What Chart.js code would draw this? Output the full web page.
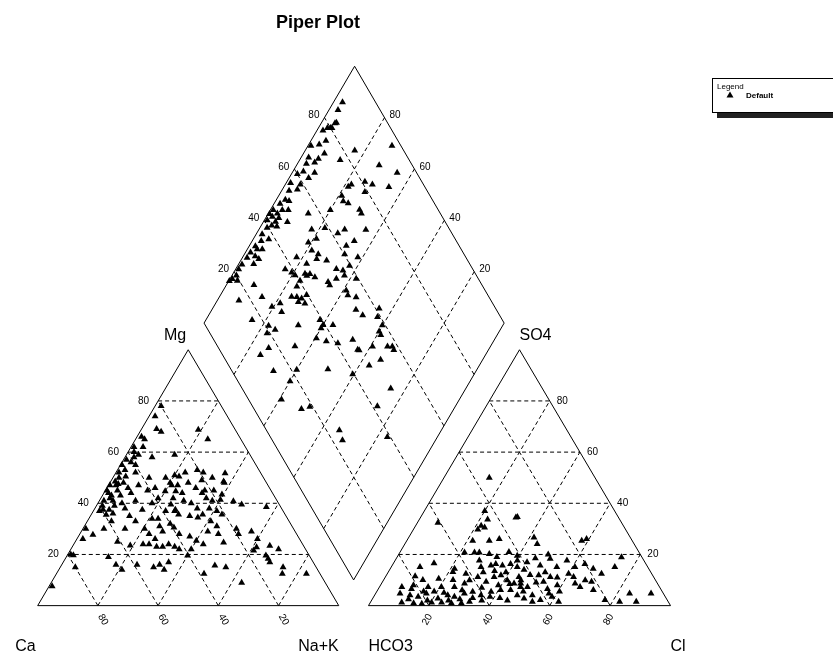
<!DOCTYPE html>
<html>
<head>
<meta charset="utf-8">
<title>Piper Plot</title>
<script src="https://cdn.jsdelivr.net/npm/chart.js@4.4.1/dist/chart.umd.min.js"></script>
<style>
    html, body { margin: 0; padding: 0; background: #fff; }
    #piperChart { display: block; }
</style>
</head>
<body>
<canvas id="piperChart" width="833" height="661"></canvas>
<script>
// --- Datos (porcentajes de meq/l) ---
// cationes: [Na+K, Mg]  (Ca = 100 - Na+K - Mg)
const cations = [
    [2,78],[2,74],[5,69],[7,68],[1.5,66],[3,65],[3,58],[4,59],[16,59],[3,56],
    [6.5,52],[0.5,55],[1,52],[2,50],[1.5,48.5],[4.5,48],[17.5,50],[20,51],[20,48],[0.5,47],
    [2.5,47],[0.5,45],[4,45],[3,43],[6,43],[1.5,41],[3,42],[3,37.5],[2,37],[5,35.5],
    [5,37.5],[7,36],[2,39],[16,33],[14,30],[1,30],[2,26],[4.5,27.7],[14,25],[1,20],
    [2,19.7],[14,19],[5,15],[18,16],[21,14],[25,16],[31,15],[32.5,16],[35,14],[35,17],
    [1,7.6],[16,37.5],[21,34],[23,34],[24,37],[24.5,39.5],[27,37.5],[19,42],[20,44.7],[21,47],
    [16,46],[20.5,30],[23,28],[26,26],[27,29],[28,32],[30,30.5],[23,24],[25,24],[28,23],
    [30,23],[31.5,24],[34,23],[36,22],[19,23.5],[23,47],[26,48],[23.5,44.7],[26,44],[29.5,46],
    [32.6,44],[35,42],[37.5,41],[40,41.4],[39.5,43.4],[38,48],[36,45],[27,37],[29,35.6],[33,35],
    [36,34.4],[37,35.6],[41,33],[43.4,35.6],[44.6,40.8],[48,39.5],[56.7,38.5],[51,30],[52.7,28],[56.5,29],
    [60,26],[40,25.4],[43,24],[49.4,24.7],[40,22],[40,19.6],[61,21.5],[61.3,22.8],[65.4,23.4],[69,22],
    [66,19.6],[67.4,18.3],[68.6,17],[51,15.7],[55,15],[49,12.5],[63.3,8.9],[74,15],[75,12.5],[83,12.5],
    [19,68.7],[24,65],[23,52],[26.5,53],[29,52],[33,50],[36.4,51.7],[37.5,48.5],[21.7,50.5],
    [1,62],[2,60],[4,62],[1,57],[5,55],[2.5,53],[4,50.5],[7,46],[8,40],[9,44],
    [10,47],[12,50],[10,38],[12,41],[14,45],[13,35],[18,40],[24,42],[28,41],[31,40],
    [33,45],[30,49],[34,38],[38,38],[41,37],[44,31],[46,28],[33,28],[37,27],[25,31],
    [42,29],[7,30],[9,58],[3,47.5],[1.5,44],[4.5,41],[6,39],[8,33]
];

// aniones: [Cl, SO4]  (HCO3 = 100 - Cl - SO4)
const anions = [
    [15,50],[20,37],[22.6,33.7],[32,34.6],[21.7,31.2],[21.3,29.8],[23.2,30.5],[6.8,32.4],[21.8,25.4],[27.3,25.4],
    [30.3,26],[21.4,20.8],[24.7,20.8],[26.3,20.8],[29.9,20.2],[9.5,15.1],[13.4,16.6],[9.7,11.5],[21.4,13.1],[21.3,14.4],
    [29.7,15.1],[32.7,15.7],[34,16.3],[36.5,15.7],[38.9,16.3],[41.7,15.1],[27.9,17.6],[7.4,7.3],[10.9,8],[16.1,7.3],
    [20.5,7.3],[24.8,7.3],[27.5,8.6],[28.5,9.9],[30.6,11.2],[34.3,9.3],[36,11.2],[8.1,4.7],[11.7,4.1],[14.7,3.5],
    [16.8,4.7],[21.6,2.8],[24.2,4.1],[26.7,3.5],[29.4,4.7],[31.8,5.4],[35.2,4.1],[37.9,5.4],[40.7,6.1],[44,6.1],
    [46.7,7.3],[47.2,4.1],[10.4,1.2],[14.5,0.9],[17.3,0.7],[20.3,1.2],[23.6,1.2],[27,0.9],[30.3,0.9],[32.7,1.5],
    [37.9,11.9],[41,9.9],[43.9,8.6],[45.5,9.9],[31.6,34.4],[41.5,26.6],[43.8,24.1],[57.9,25.4],[59.2,26],[40.5,17.6],
    [44,17],[49,15.7],[51,18.3],[54.8,15.1],[56.9,17.6],[60.8,15.1],[63.5,16.3],[67.2,14.4],[70.9,12.5],[74,15.1],
    [74.3,18.9],[44.2,11.2],[46.1,8.6],[49,7.3],[50.4,11.9],[53.3,9.3],[54.6,11.2],[62.3,11.2],[64.1,8.6],[66.4,7.3],
    [66.8,9.9],[69.2,9.3],[71.4,6.1],[50.1,2.8],[52.2,4.1],[55.8,2.2],[57.4,4.7],[59,3.5],[62.2,1.5],[77.2,2.2],
    [82.4,1.5],[84.1,4.7],[87.9,1.5],[91.2,4.7],
    [12,2.5],[15.5,5.5],[18.5,2],[19,5.5],[22.5,5],[25.5,2],[28,6],[29,2.5],[33,3],[34,7],
    [36.5,2],[38.5,3.5],[39,8],[42,3],[42.5,8.5],[45,2],[48.5,5.5],[51,9],[53.5,1.5],[56,6.5],
    [58.5,8],[60.5,5.5],[11,6.5],[13,10],[18,10.5],[23,10],[26,12.5],[31.5,13],[35,13.5],[39,13],
    [44.5,14],[47.5,12],[52,13],[57,11],[60,12.5],[33,19],[36,21],[39.5,19.5],[46,18.5],[49.5,20]
];

// rombo: [Ca+Mg, SO4+Cl]
const diamond = [
    [97,89],[97,86],[95,83],[96,80],[95.5,80.5],[95.4,82.4],[97,79],[98,77],[95,76],[99,70],
    [83.5,83.7],[72,97],[93,73],[86.5,77],[94,70],[94.5,68],[97,65],[96.5,62.5],[92.5,66],[72.5,89],
    [65,93.5],[98.5,56],[95,59],[95,57],[78.6,74.5],[78,76],[74,81],[71,83],[72,79],[65,88],
    [79,70.6],[75.4,71.3],[77.4,70],[70.3,73.8],[69,73.7],[80,64],[86.7,56],[95.5,52],[97,51],[94,50],
    [96,48],[92,47.4],[97,45.7],[99,45],[99.5,43],[98,43.4],[99,41],[96,43.5],[95.6,45.3],[97.6,39.5],
    [82.4,54],[78.3,58.7],[71.4,65],[64.3,72],[94.6,43],[73,62],[98,36.6],[94.8,37.8],[96.7,32],[98.3,29.2],
    [98.4,27],[94.3,30.7],[95,28],[98.8,24],[99,22],[99.2,18],[97.2,19.3],[99.8,16.6],[95,33.7],[97.9,32],
    [81,50.4],[79,53.8],[78.3,50],[75.4,51.4],[75,50],[71.4,53],[77.4,45.7],[82,43.6],[66,66],[67.7,62.4],
    [66.6,60.2],[61.6,64],[83.5,37.5],[80.7,39],[79,39.6],[76,43.2],[74.3,44.8],[72,45.8],[76.3,40.2],[76.2,38],
    [75,43.4],[66.5,54.6],[64,56.5],[62.5,56],[62.7,59.6],[64.6,52.7],[66.7,49.3],[65.5,49.2],[58,59.3],[90.8,24],
    [92.8,16],[85.8,24.4],[80.6,25.8],[78.5,29.2],[76,34.3],[74.2,36],[72.3,37.3],[71.3,39.6],[72.7,35.5],[70.2,37.4],
    [59,53.7],[57.5,53.3],[54.4,55.7],[76.3,28],[84.6,16.6],[78,21],[75,22.4],[77,19],[68.2,31],[62,39.2],
    [60,39.3],[60,38],[56.7,42.6],[52,53.2],[48.7,54.4],[44.5,61.2],[43.4,59],[40.2,59],[73.6,16.7],[65.2,25.8],
    [59.6,34.5],[55.7,37.2],[51.5,40.7],[47.2,46.3],[43.6,46],[40,56.7],[38.8,56.6],[39.3,51.6],[32.7,58.2],[31.5,58],
    [75,12.6],[67.5,13.8],[60,21.8],[60,17.4],[49.7,32.3],[59.3,11],[50.8,15.8],[48.4,19],[34,24.3],[31,23.4],
    [40.5,39.6],[43,46.4],[34,51.7],[36.7,46.8],[25,49.5],[26,41.6],[16.7,39],[34.3,56.6],
    [98,60],[97.5,54],[98,48.5],[96.5,41.5],[97,35],[96,30],[98.5,20],[97.5,67],[96.5,73],[93.5,63]
];

const gridSteps = [20, 40, 60, 80];
const tickLabels = ['20', '40', '60', '80'];

// --- Geometría del diagrama (coordenadas del lienzo) ---
const W = 833, H = 661;
const CAT = { x0: 34, x1: 338, base: 609, h: 259 };
const AN = { x0: 368, x1: 673, base: 609, h: 259 };
const DIA = { bx: 353, by: 583, lx: 202, ly: 323, rx: 505, ry: 323 };
const FONT = "'Liberation Sans', Arial, sans-serif";

function catXY(naK, mg) {
    return { x: CAT.x0 + (CAT.x1 - CAT.x0) * (naK + mg / 2) / 100, y: CAT.base - CAT.h * mg / 100 };
}
function anXY(cl, so4) {
    return { x: AN.x0 + (AN.x1 - AN.x0) * (cl + so4 / 2) / 100, y: AN.base - AN.h * so4 / 100 };
}
function diaXY(caMg, so4Cl) {
    return {
        x: DIA.bx + (DIA.lx - DIA.bx) * caMg / 100 + (DIA.rx - DIA.bx) * so4Cl / 100,
        y: DIA.by + (DIA.ly - DIA.by) * (caMg + so4Cl) / 100
    };
}

// --- Marco, rejilla y textos ---
const piperFrame = {
    id: 'piperFrame',
    beforeDatasetsDraw(chart) {
        const ctx = chart.ctx;
        const sx = chart.scales.x, sy = chart.scales.y;
        const px = p => [sx.getPixelForValue(p.x), sy.getPixelForValue(p.y)];

        function seg(p, q, dashed) {
            const a = px(p), b = px(q);
            ctx.save();
            ctx.strokeStyle = '#000';
            ctx.lineWidth = 1;
            ctx.setLineDash(dashed ? [4, 3] : []);
            ctx.beginPath();
            ctx.moveTo(a[0], a[1]);
            ctx.lineTo(b[0], b[1]);
            ctx.stroke();
            ctx.restore();
        }
        function poly(pts) {
            ctx.save();
            ctx.strokeStyle = '#000';
            ctx.lineWidth = 1;
            ctx.beginPath();
            pts.forEach((p, i) => {
                const a = px(p);
                if (i === 0) ctx.moveTo(a[0], a[1]); else ctx.lineTo(a[0], a[1]);
            });
            ctx.closePath();
            ctx.stroke();
            ctx.restore();
        }
        function text(str, p, dx, dy, align, font, rot) {
            const a = px(p);
            ctx.save();
            ctx.fillStyle = '#000';
            ctx.font = font;
            ctx.textAlign = align;
            ctx.textBaseline = 'middle';
            ctx.translate(a[0] + dx, a[1] + dy);
            if (rot) ctx.rotate(rot);
            ctx.fillText(str, 0, 0);
            ctx.restore();
        }

        // rejilla triangular
        gridSteps.forEach(g => {
            seg(catXY(0, g), catXY(100 - g, g), true);
            seg(catXY(g, 0), catXY(g, 100 - g), true);
            seg(catXY(100 - g, 0), catXY(0, 100 - g), true);
            seg(anXY(0, g), anXY(100 - g, g), true);
            seg(anXY(g, 0), anXY(g, 100 - g), true);
            seg(anXY(100 - g, 0), anXY(0, 100 - g), true);
            seg(diaXY(g, 0), diaXY(g, 100), true);
            seg(diaXY(0, g), diaXY(100, g), true);
        });

        poly([catXY(0, 0), catXY(100, 0), catXY(0, 100)]);
        poly([anXY(0, 0), anXY(100, 0), anXY(0, 100)]);
        poly([diaXY(0, 0), diaXY(100, 0), diaXY(100, 100), diaXY(0, 100)]);

        // etiquetas de los ejes
        const tick = '10px ' + FONT;
        gridSteps.forEach((g, i) => {
            const lbl = tickLabels[i];
            text(lbl, catXY(0, g), -9, 0, 'right', tick);
            text(lbl, catXY(100 - g, 0), 5, 14, 'center', tick, Math.PI / 3);
            text(lbl, anXY(100 - g, g), 7, 0, 'left', tick);
            text(lbl, anXY(g, 0), -1.5, 14, 'center', tick, -Math.PI / 3);
            text(lbl, diaXY(100, g), -5, -2, 'right', tick);
            text(lbl, diaXY(g, 100), 5, -2, 'left', tick);
        });

        const big = '16px ' + FONT;
        text('Mg', catXY(0, 100), -2, -14, 'right', big);
        text('SO4', anXY(0, 100), 0, -14, 'left', big);
        text('Ca', catXY(0, 0), -2, 41, 'right', big);
        text('Na+K', catXY(100, 0), 0, 41, 'right', big);
        text('HCO3', anXY(0, 0), 0, 41, 'left', big);
        text('Cl', anXY(100, 0), 0, 41, 'left', big);

        // título
        text('Piper Plot', { x: 317, y: 19 }, 0, 0, 'center', 'bold 18px ' + FONT);
    },
    afterDraw(chart) {
        // leyenda con sombra
        const ctx = chart.ctx;
        ctx.save();
        ctx.fillStyle = '#222';
        ctx.fillRect(717, 83, 130, 35);
        ctx.fillStyle = '#fff';
        ctx.fillRect(712, 78, 130, 35);
        ctx.strokeStyle = '#000';
        ctx.lineWidth = 1;
        ctx.strokeRect(712.5, 78.5, 130, 34);
        ctx.fillStyle = '#000';
        ctx.font = '8px ' + FONT;
        ctx.textBaseline = 'middle';
        ctx.fillText('Legend', 717, 87);
        ctx.font = 'bold 8px ' + FONT;
        ctx.fillText('Default', 746, 96);
        ctx.beginPath();
        ctx.moveTo(730, 91.5);
        ctx.lineTo(733.5, 97.5);
        ctx.lineTo(726.5, 97.5);
        ctx.closePath();
        ctx.fill();
        ctx.restore();
    }
};

function pointSet(rows, fn) {
    return rows.map(r => fn(r[0], r[1]));
}

const pointStyle = {
    pointStyle: 'triangle',
    pointRadius: 4,
    pointBackgroundColor: '#000',
    pointBorderColor: '#000',
    pointBorderWidth: 0,
    showLine: false
};

new Chart(document.getElementById('piperChart'), {
    type: 'scatter',
    data: {
        datasets: [
            Object.assign({ label: 'Cationes', data: pointSet(cations, catXY) }, pointStyle),
            Object.assign({ label: 'Aniones', data: pointSet(anions, anXY) }, pointStyle),
            Object.assign({ label: 'Rombo', data: pointSet(diamond, diaXY) }, pointStyle)
        ]
    },
    options: {
        responsive: false,
        animation: false,
        layout: { padding: 0 },
        scales: {
            x: { type: 'linear', min: 0, max: W, display: false },
            y: { type: 'linear', min: 0, max: H, reverse: true, display: false }
        },
        plugins: {
            legend: { display: false },
            title: { display: false },
            tooltip: { enabled: false }
        }
    },
    plugins: [piperFrame]
});
</script>
</body>
</html>
